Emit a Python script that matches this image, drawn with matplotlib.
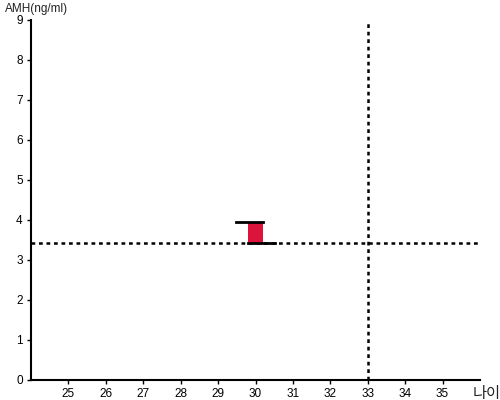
import matplotlib
matplotlib.use("Agg")
import matplotlib.pyplot as plt
from matplotlib.patches import Rectangle

plt.rcParams['font.family'] = ['Liberation Sans', 'Noto Sans CJK KR', 'DejaVu Sans']

# 데이터
age = 30
amh_open = 3.95
amh_close = 3.42
ref_age = 33
ref_amh = 3.42
x_ticks = list(range(25, 36))
y_ticks = list(range(0, 10))

fig = plt.figure(figsize=(5, 4), dpi=100)
ax = fig.add_axes([0.062, 0.05, 0.898, 0.9])
ax.set_xlim(24, 36)
ax.set_ylim(0, 9)

# 기준선
ax.axhline(ref_amh, color="black", linestyle=(0, (1.5, 1.5)), linewidth=1.8, zorder=1)
ax.axvline(ref_age, color="black", linestyle=(0, (1.5, 1.5)), linewidth=1.8, zorder=1)

# 박스
w = 0.21
ax.add_patch(Rectangle((age - w, amh_close), 2 * w, amh_open - amh_close,
                       facecolor="#dc143c", edgecolor="none", zorder=2))
ax.plot([age - 0.53, age + w], [amh_open, amh_open], color="black", linewidth=2, zorder=3)
ax.plot([age - w, age + 0.53], [amh_close, amh_close], color="black", linewidth=2, zorder=3)

ax.set_xticks(x_ticks)
ax.set_yticks(y_ticks)
ax.tick_params(length=3, width=1, labelsize=8.5, pad=3)
ax.spines["top"].set_visible(False)
ax.spines["right"].set_visible(False)
ax.spines["left"].set_linewidth(1.5)
ax.spines["bottom"].set_linewidth(1.5)

fig.text(0.01, 0.978, "AMH(ng/ml)", fontsize=8.5, color="#222222", va="center")
fig.text(0.945, 0.015, "나이", fontsize=11, color="#222222", va="center")

fig.savefig("out.png")
